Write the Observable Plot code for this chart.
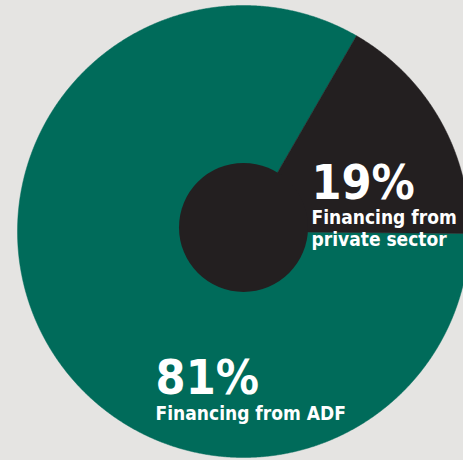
<!DOCTYPE html>
<html><head><meta charset="utf-8">
<script src="https://cdn.jsdelivr.net/npm/d3@7"></script>
<script src="https://cdn.jsdelivr.net/npm/@observablehq/plot@0.6"></script>
<style>html,body{margin:0;padding:0;background:#e5e4e2;overflow:hidden}#chart svg{display:block}</style>
</head><body><div id="chart"></div>
<script>
// Data
const categories = ["Financing from ADF", "Financing from private sector"];
const shares = [81, 19];
const percentLabels = ["81%", "19%"];
const subLabels = ["Financing from ADF", "Financing from\nprivate sector"];
// slice extents as drawn in the picture (degrees clockwise from 12 o'clock)
const sliceStart = [90.5, 30];
const sliceEnd = [390, 90.5];

// Layout (data units: outer radius = 1)
const labelX = [-0.389, 0.301];
const pctY = [-0.717, 0.146];
const subY = [-0.832, -0.066];
const colors = ["#006b5a", "#231f20"];

const rad = d => d * Math.PI / 180;
const slicePts = [];
categories.forEach((c, i) => {
  slicePts.push({cat: c, x: 0, y: 0});
  const angles = d3.range(sliceStart[i], sliceEnd[i], 0.25).concat([sliceEnd[i]]);
  for (const a of angles) slicePts.push({cat: c, x: Math.sin(rad(a)), y: Math.cos(rad(a))});
  slicePts.push({cat: c, x: 0, y: 0});
});
const labels = categories.map((c, i) => ({cat: c, share: shares[i], pct: percentLabels[i], sub: subLabels[i], x: labelX[i], py: pctY[i], sy: subY[i]}));

const font = "'DejaVu Sans Condensed', 'DejaVu Sans', sans-serif";
const chart = Plot.plot({
  width: 463, height: 460, margin: 0,
  x: {domain: [-243/226, 220/226], axis: null},
  y: {domain: [-229/226, 231/226], axis: null},
  color: {domain: categories, range: colors},
  style: {background: "transparent", fontFamily: font},
  marks: [
    Plot.line(slicePts.filter(d => d.cat === categories[0]), {x: "x", y: "y", fill: colors[0], stroke: colors[0], strokeWidth: 0.5, curve: "linear"}),
    Plot.line(slicePts.filter(d => d.cat === categories[1]), {x: "x", y: "y", fill: colors[1], stroke: colors[1], strokeWidth: 0.5, curve: "linear"}),
    Plot.dot([{x: 0, y: 0.018}], {x: "x", y: "y", r: 64.5, fill: colors[1], stroke: null}),
    Plot.text(labels, {x: "x", y: "py", text: "pct", textAnchor: "start", lineAnchor: "bottom", fill: "white", fontSize: 48, fontWeight: "bold", fontFamily: font}),
    Plot.text(labels, {x: "x", y: "sy", text: "sub", textAnchor: "start", lineAnchor: "bottom", lineHeight: 1.16, fill: "white", fontSize: 19, fontWeight: "bold", fontFamily: font})
  ]
});
document.getElementById("chart").appendChild(chart);
</script>
</body></html>
